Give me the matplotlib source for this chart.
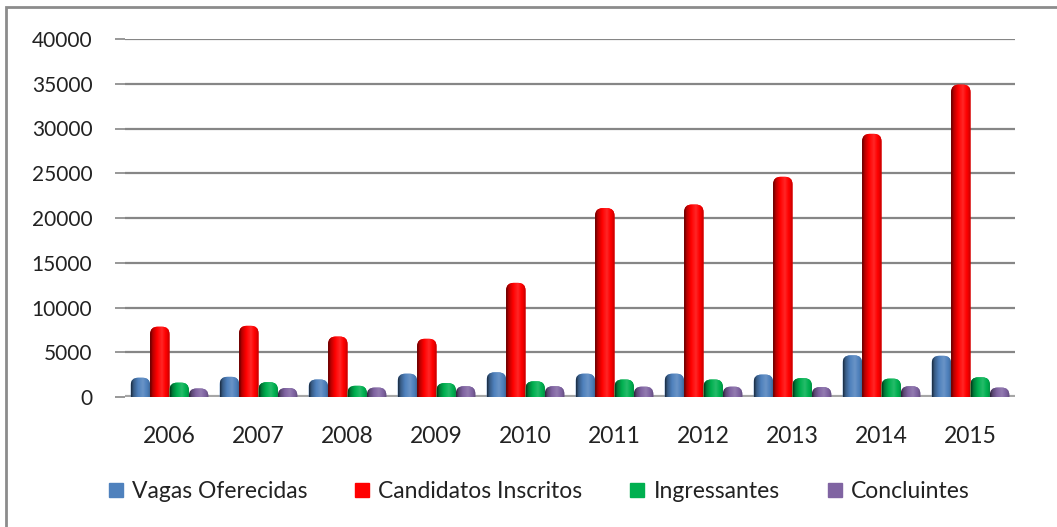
import numpy as np
import matplotlib
matplotlib.use("Agg")
import matplotlib.pyplot as plt
import matplotlib.colors as mcolors
from matplotlib.patches import FancyBboxPatch, Rectangle
from matplotlib.lines import Line2D

plt.rcParams['font.family'] = ['Lato', 'DejaVu Sans']

# values
years = ["2006", "2007", "2008", "2009", "2010", "2011", "2012", "2013", "2014", "2015"]
vagas = [2150, 2250, 1950, 2600, 2750, 2600, 2600, 2500, 4650, 4600]
candidatos = [7850, 7950, 6750, 6500, 12750, 21100, 21500, 24600, 29400, 34900]
ingressantes = [1600, 1650, 1250, 1550, 1750, 1950, 1950, 2100, 2050, 2200]
concluintes = [950, 1000, 1050, 1200, 1200, 1150, 1150, 1100, 1200, 1050]
series_names = ["Vagas Oferecidas", "Candidatos Inscritos", "Ingressantes", "Concluintes"]
series_colors = ["#4F81BD", "#FF0000", "#00B050", "#8064A2"]
yticks = list(range(0, 40001, 5000))

W, H = 1057, 527
fig = plt.figure(figsize=(W / 100, H / 100), dpi=100)
ax_left, ax_right, ax_top, ax_bottom = 125, 1015, 39, 397
ax = fig.add_axes([ax_left / W, 1 - ax_bottom / H, (ax_right - ax_left) / W, (ax_bottom - ax_top) / H])

ymax = 40000
x = np.arange(len(years))
bar_w = 0.218
offsets = (np.arange(4) - 1.5) * bar_w

# pixel sizes -> data units, for the rounded cylinder tops
px_x = len(years) / (ax_right - ax_left)
px_y = ymax / (ax_bottom - ax_top)
aspect = px_y / px_x
r = 7.5 * px_x
ry = r * aspect

# horizontal shading that fakes the cylinder look
t = np.linspace(0, 1, 40)
shade = np.interp(t, [0, 0.12, 0.35, 0.6, 0.85, 1], [0.35, 0.7, 1.0, 1.15, 0.95, 0.75])


def shaded(color):
    rgb = np.array(mcolors.to_rgb(color))
    rows = []
    for s in shade:
        if s <= 1:
            rows.append(rgb * s)
        else:
            rows.append(rgb + (1 - rgb) * (s - 1))
    return np.clip(np.array(rows), 0, 1)[None, :, :]


data = [vagas, candidatos, ingressantes, concluintes]
for i, (vals, color) in enumerate(zip(data, series_colors)):
    grad = shaded(color)
    for xi, v in zip(x, vals):
        x0 = xi + offsets[i] - bar_w / 2
        patch = FancyBboxPatch((x0, -ry), bar_w, v + ry,
                               boxstyle=f"round,pad=0,rounding_size={r}",
                               mutation_aspect=aspect,
                               facecolor=color, edgecolor='none', zorder=3)
        ax.add_patch(patch)
        im = ax.imshow(grad, extent=(x0, x0 + bar_w, -ry, v), aspect='auto',
                       interpolation='bilinear', zorder=3)
        im.set_clip_path(patch)

ax.set_xlim(-0.5, len(years) - 0.5)
ax.set_ylim(0, ymax)
ax.set_yticks(yticks)
ax.set_xticks(x)
ax.set_xticklabels(years)
ax.yaxis.grid(True, color='#868686', lw=1.6)
ax.set_axisbelow(True)
for s in ax.spines.values():
    s.set_visible(False)
ax.axhline(0, color='#A6A6A6', lw=3, zorder=2)

ax.tick_params(axis='y', length=7, width=1.2, color='#868686', pad=16.5,
               labelsize=15, labelcolor='#222222')
ax.tick_params(axis='x', length=0, pad=21, labelsize=16.5, labelcolor='#222222')

handles = [Line2D([], [], marker='s', ls='none', markersize=10,
                  markerfacecolor=c, markeredgecolor=c) for c in series_colors]
fig.legend(handles, series_names, loc='center', bbox_to_anchor=(538 / W, 1 - 492 / H),
           ncol=4, frameon=False, fontsize=16.5, handletextpad=0.3,
           columnspacing=2.0, handlelength=0.8, labelcolor='#222222')

fig.add_artist(Rectangle((6 / W, -0.1), 1.2, (1 - 7 / H) + 0.1, transform=fig.transFigure,
                         fill=False, edgecolor='#8c8c8c', lw=2))

fig.savefig('out.png', dpi=100)
